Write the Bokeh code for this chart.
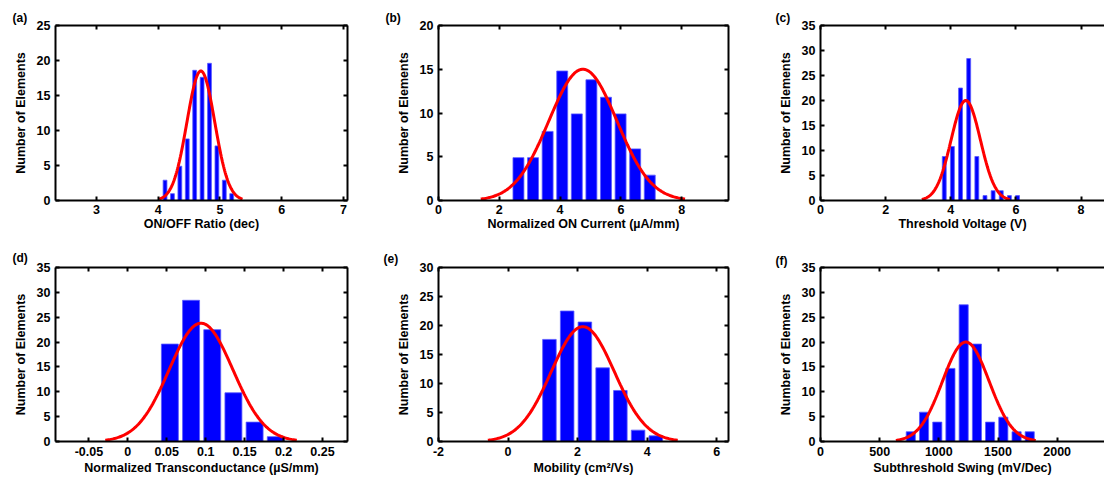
import numpy as np
from bokeh.plotting import figure
from bokeh.models import Range1d, LinearAxis, FixedTicker, Title
from bokeh.layouts import column, row
from bokeh.embed import file_html
from bokeh.resources import INLINE

# ---------------- data ----------------
# (a) ON/OFF ratio
a_centers = [4.11, 4.23, 4.35, 4.47, 4.59, 4.71, 4.83, 4.95, 5.07, 5.19]
a_counts = [2.9, 0.98, 4.9, 8.8, 18.6, 17.6, 19.6, 7.8, 2.9, 0.98]
a_fit = dict(mean=4.69, sigma=0.225, peak=18.5)
a_xticks = [3, 4, 5, 6, 7]
a_xticklabels = ["3", "4", "5", "6", "7"]
a_yticks = [0, 5, 10, 15, 20, 25]

# (b) normalized ON current
b_centers = [2.63, 3.11, 3.59, 4.07, 4.55, 5.03, 5.51, 5.99, 6.47, 6.95]
b_counts = [4.9, 4.9, 7.9, 14.8, 9.9, 13.8, 11.8, 9.9, 5.9, 2.9]
b_fit = dict(mean=4.75, sigma=1.12, peak=15.0)
b_xticks = [0, 2, 4, 6, 8]
b_xticklabels = ["0", "2", "4", "6", "8"]
b_yticks = [0, 5, 10, 15, 20]

# (c) threshold voltage
c_centers = [3.80, 4.05, 4.30, 4.55, 4.80, 5.05, 5.30, 5.55, 5.80, 6.05]
c_counts = [8.8, 10.8, 22.5, 28.4, 8.8, 0.98, 1.96, 1.96, 0.98, 0.98]
c_fit = dict(mean=4.46, sigma=0.45, peak=20.0)
c_xticks = [0, 2, 4, 6, 8]
c_xticklabels = ["0", "2", "4", "6", "8"]
c_yticks = [0, 5, 10, 15, 20, 25, 30, 35]

# (d) normalized transconductance
d_centers = [0.054, 0.0812, 0.1084, 0.1356, 0.1628, 0.19]
d_counts = [19.6, 28.4, 22.5, 9.8, 3.9, 0.98]
d_fit = dict(mean=0.094, sigma=0.041, peak=23.8)
d_xticks = [-0.05, 0, 0.05, 0.1, 0.15, 0.2, 0.25]
d_xticklabels = ["-0.05", "0", "0.05", "0.1", "0.15", "0.2", "0.25"]
d_yticks = [0, 5, 10, 15, 20, 25, 30, 35]

# (e) mobility
e_centers = [1.19, 1.70, 2.21, 2.72, 3.23, 3.74, 4.25]
e_counts = [17.6, 22.5, 20.6, 12.7, 8.8, 1.96, 0.98]
e_fit = dict(mean=2.15, sigma=0.91, peak=19.8)
e_xticks = [-2, 0, 2, 4, 6]
e_xticklabels = ["-2", "0", "2", "4", "6"]
e_yticks = [0, 5, 10, 15, 20, 25, 30]

# (f) subthreshold swing
f_centers = [763, 875, 987, 1098, 1210, 1322, 1433, 1545, 1657, 1768]
f_counts = [1.96, 5.9, 3.9, 14.7, 27.5, 19.6, 3.9, 4.9, 1.96, 1.96]
f_fit = dict(mean=1228, sigma=197, peak=20.0)
f_xticks = [0, 500, 1000, 1500, 2000]
f_xticklabels = ["0", "500", "1000", "1500", "2000"]
f_yticks = [0, 5, 10, 15, 20, 25, 30, 35]

FONT = "Liberation Sans"
BLUE = "#0000FF"
RED = "#FF0000"


def style_axis(ax, ticks, labels=None, show_labels=True, standoff=4):
    ax.ticker = FixedTicker(ticks=ticks)
    if labels is not None:
        ax.major_label_overrides = {t: l for t, l in zip(ticks, labels)}
    ax.axis_line_width = 2
    ax.axis_line_color = "black"
    ax.major_tick_in = 4
    ax.major_tick_out = 0
    ax.major_tick_line_width = 2
    ax.minor_tick_line_color = None
    ax.major_label_text_font = FONT
    ax.major_label_text_font_style = "bold"
    if show_labels:
        ax.major_label_text_color = "black"
        ax.major_label_text_font_size = "12.5px"
        ax.major_label_standoff = standoff
    else:
        ax.major_label_text_color = None
        ax.major_label_text_font_size = "1px"
        ax.major_label_standoff = 0
    ax.axis_label_text_font = FONT
    ax.axis_label_text_font_style = "bold"
    ax.axis_label_text_font_size = "12.5px"
    ax.axis_label_text_color = "black"


def make_panel(xr, yr, xticks, xticklabels, yticks, centers, counts, bar_w, fit,
               xlabel, tag, fw, fh, borders, right_axis, tag_off, xstand):
    bl, br, bt, bb = borders
    p = figure(output_backend="svg", toolbar_location=None,
               frame_width=fw, frame_height=fh,
               x_range=Range1d(*xr), y_range=Range1d(*yr),
               min_border_left=bl, min_border_right=br,
               min_border_top=bt, min_border_bottom=bb)
    p.title = Title(text=tag, align="left", offset=tag_off[0], standoff=tag_off[1],
                    text_font=FONT, text_font_style="bold", text_font_size="12px",
                    text_color="black")
    p.outline_line_color = None
    p.xgrid.visible = False
    p.ygrid.visible = False
    p.background_fill_color = "white"
    p.border_fill_color = "white"

    p.vbar(x=centers, top=counts, bottom=0, width=bar_w,
           fill_color=BLUE, line_color="#5a5aff", line_width=0.8)

    m, s, pk = fit["mean"], fit["sigma"], fit["peak"]
    gx = np.linspace(m - 3 * s, m + 3 * s, 150)
    gy = pk * np.exp(-0.5 * ((gx - m) / s) ** 2)
    p.line(gx, gy, line_color=RED, line_width=3)

    style_axis(p.xaxis[0], xticks, xticklabels, standoff=xstand[0])
    p.xaxis[0].axis_label = xlabel
    p.xaxis[0].axis_label_standoff = xstand[1]
    style_axis(p.yaxis[0], yticks, [str(v) for v in yticks], standoff=5)
    p.yaxis[0].axis_label = "Number of Elements"
    p.yaxis[0].axis_label_standoff = 6

    top = LinearAxis()
    style_axis(top, xticks, show_labels=False)
    p.add_layout(top, "above")
    if right_axis:
        rgt = LinearAxis()
        style_axis(rgt, yticks, show_labels=False)
        p.add_layout(rgt, "right")
    return p


pa = make_panel((2.336, 7.065), (0, 25), a_xticks, a_xticklabels, a_yticks,
                a_centers, a_counts, 0.062, a_fit, "ON/OFF Ratio (dec)", "(a)",
                292, 175, (55, 33, 25, 45), True, (-43, 1), (4, 0))
pb = make_panel((0, 9.54), (0, 20), b_xticks, b_xticklabels, b_yticks,
                b_centers, b_counts, 0.36, b_fit, "Normalized ON Current (µA/mm)", "(b)",
                290, 175, (58, 44, 25, 45), True, (-53, 1), (4, 0))
pc = make_panel((0, 8.72), (0, 35), c_xticks, c_xticklabels, c_yticks,
                c_centers, c_counts, 0.12, c_fit, "Threshold Voltage (V)", "(c)",
                284, 175, (48, 0, 25, 45), False, (-45, 1), (4, 0))
pd = make_panel((-0.0929, 0.2821), (0, 35), d_xticks, d_xticklabels, d_yticks,
                d_centers, d_counts, 0.0218, d_fit, "Normalized Transconductance (µS/mm)", "(d)",
                292, 174, (55, 33, 22, 39), True, (-43, 5), (5, 2))
pe = make_panel((-2, 6.34), (0, 30), e_xticks, e_xticklabels, e_yticks,
                e_centers, e_counts, 0.39, e_fit, "Mobility (cm²/Vs)", "(e)",
                290, 174, (58, 44, 22, 39), True, (-55, 3), (5, 2))
pf = make_panel((0, 2400), (0, 35), f_xticks, f_xticklabels, f_yticks,
                f_centers, f_counts, 77, f_fit, "Subthreshold Swing (mV/Dec)", "(f)",
                284, 174, (48, 0, 22, 39), False, (-45, 0), (5, 2))

layout = column(row(pa, pb, pc), row(pd, pe, pf))

open("out.html", "w").write(file_html(layout, INLINE))
